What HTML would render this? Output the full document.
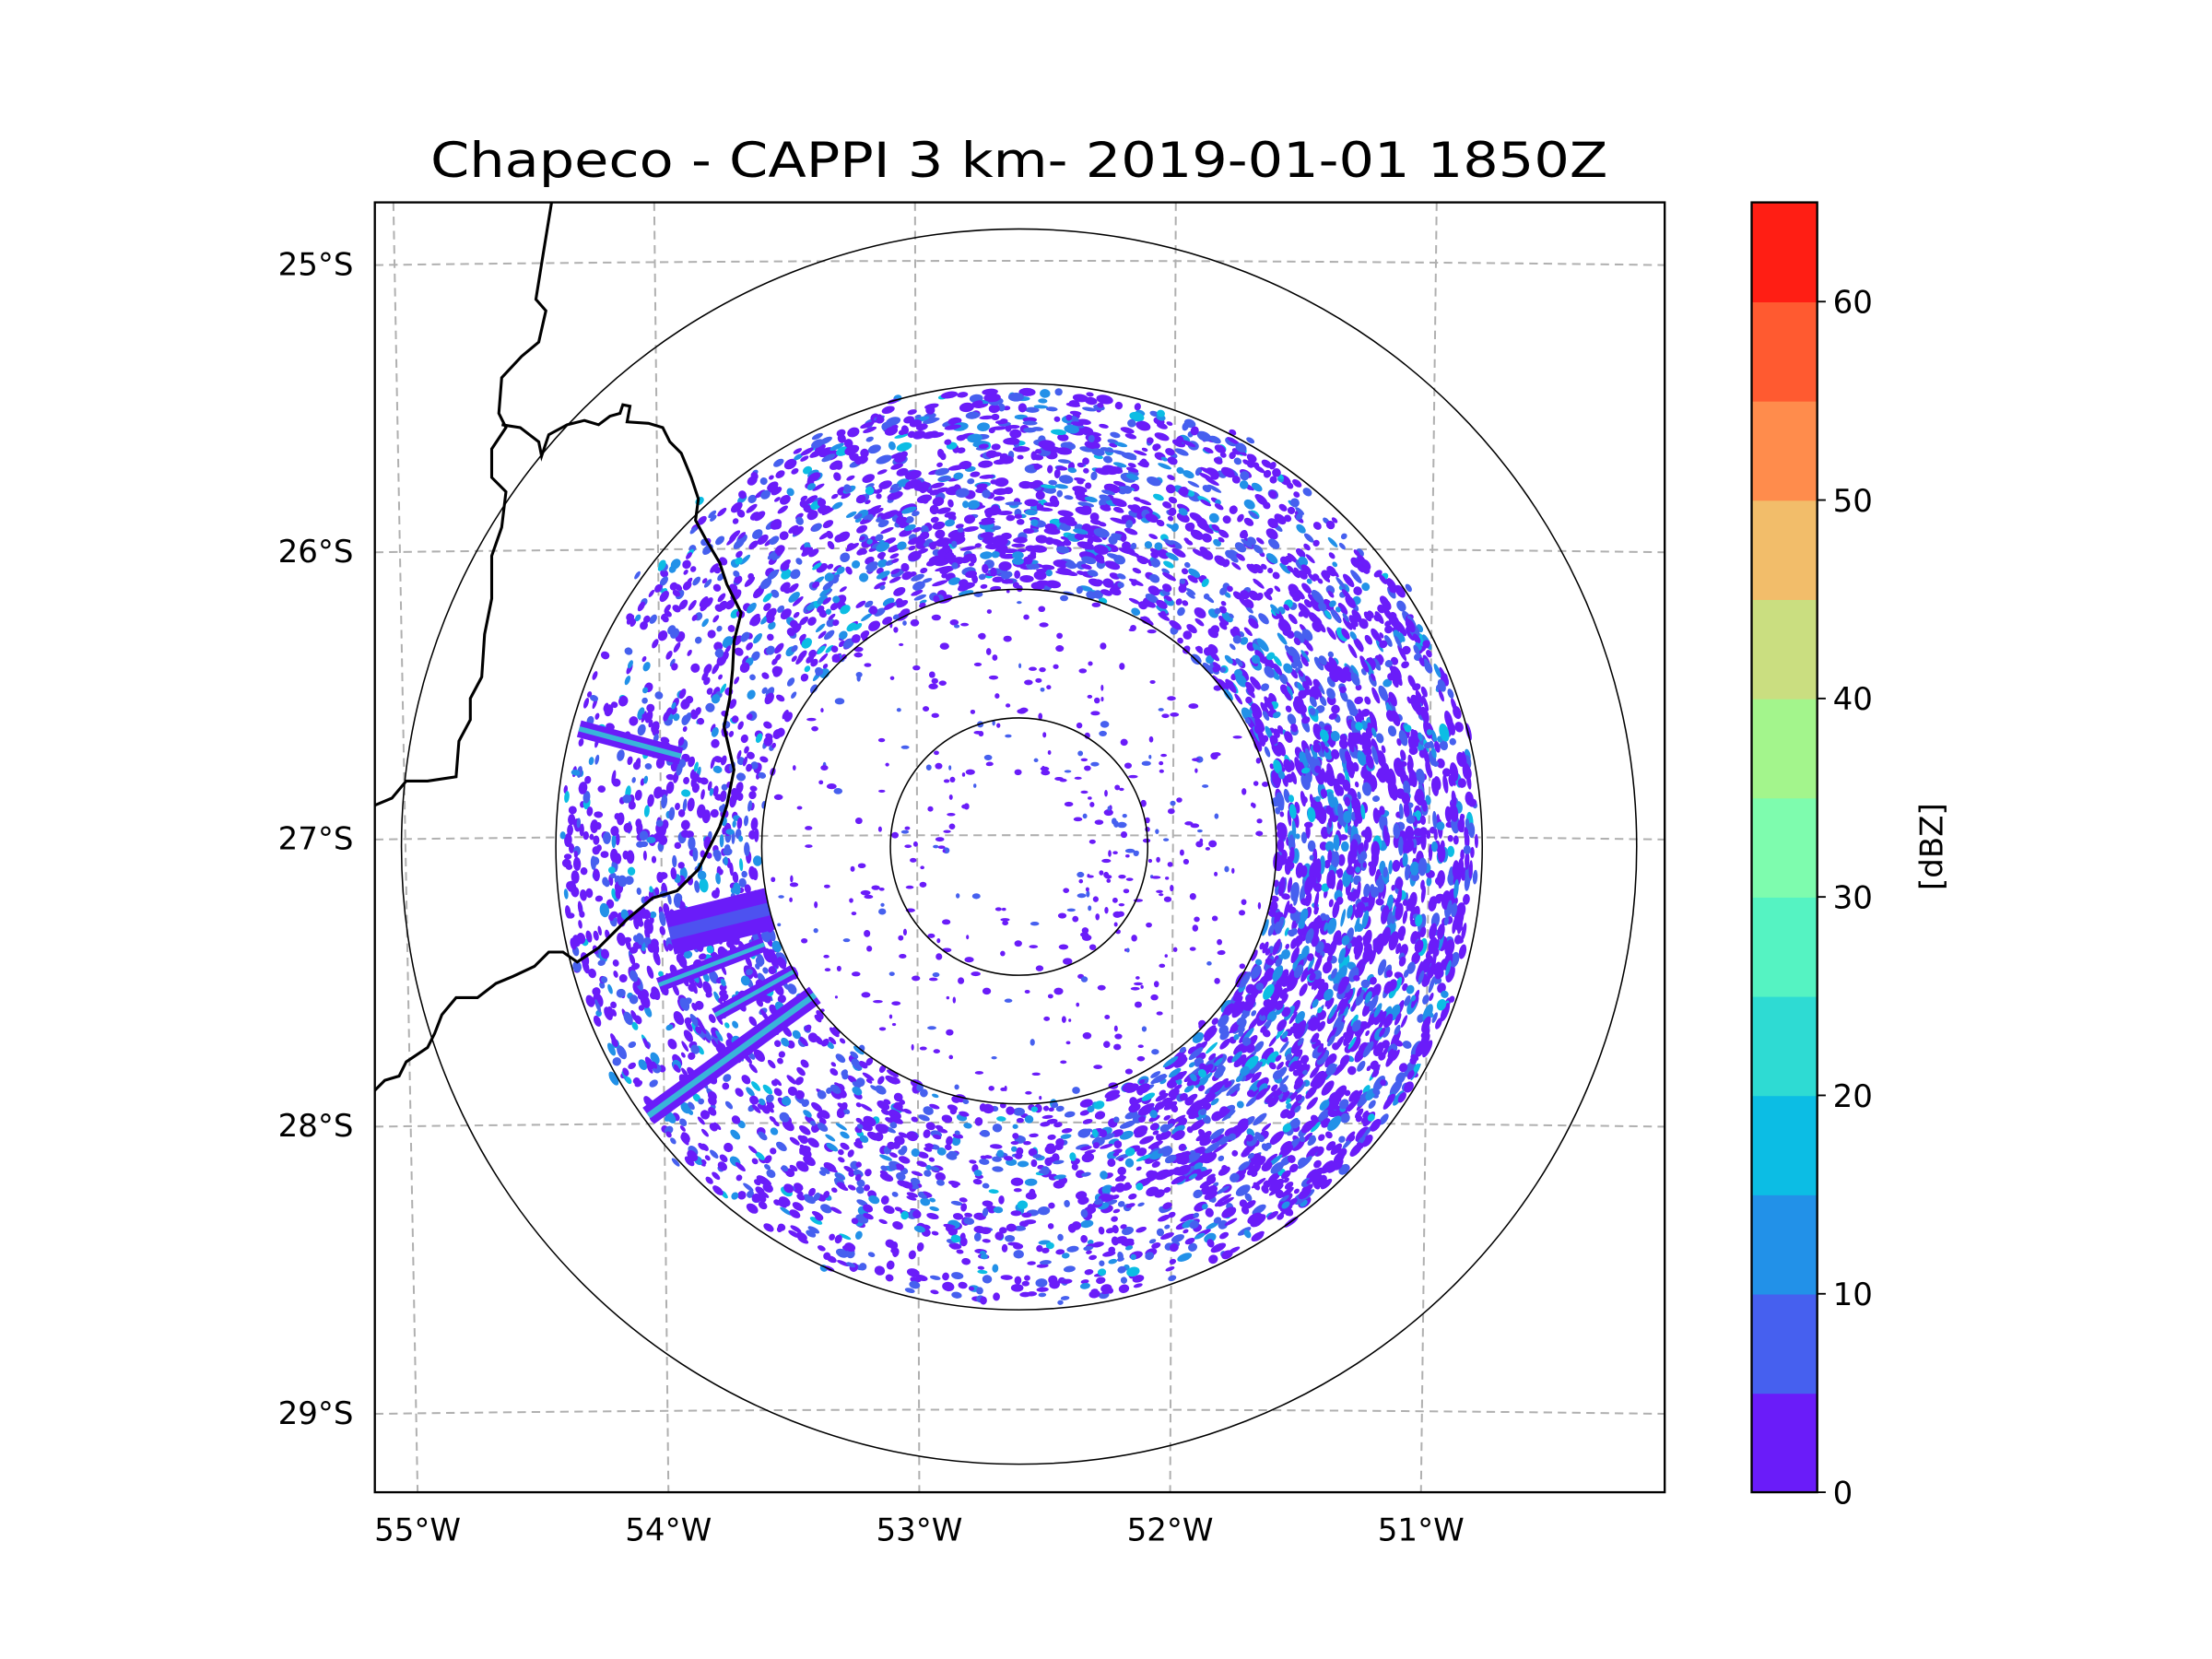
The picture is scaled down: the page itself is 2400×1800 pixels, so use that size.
<!DOCTYPE html>
<html><head><meta charset="utf-8"><style>
html,body{margin:0;padding:0;background:#fff;}
svg{display:block;}
text{font-family:"DejaVu Sans","Liberation Sans",sans-serif;fill:#000;}
</style></head>
<body>
<svg id="chart" width="2400" height="1800" viewBox="0 0 1552 1164" preserveAspectRatio="none" xmlns="http://www.w3.org/2000/svg">
<rect x="0" y="0" width="1552" height="1164" fill="#fff"/>
<text x="715" y="124" font-size="34" text-anchor="middle" textLength="826" lengthAdjust="spacingAndGlyphs">Chapeco - CAPPI 3 km- 2019-01-01 1850Z</text>
<defs><clipPath id="plotclip"><rect x="263" y="142" width="905" height="905"/></clipPath></defs>
<g id="grid" stroke="#b0b0b0" stroke-width="1.3" stroke-dasharray="6,4" fill="none"></g>
<g id="echoes" clip-path="url(#plotclip)"></g>
<g id="rings" fill="none" stroke="#000" stroke-width="1"></g>
<g fill="none" stroke="#000" stroke-width="2" clip-path="url(#plotclip)">
<polyline points="387,142 380,185 376,210 383,218 378,240 366,250 352,265 350,290 355,300 345,315 345,335 355,345 352,370 345,390 345,420 340,445 338,475 330,490 330,505 322,520 320,545 300,548 285,548 275,560 263,565"/>
<polyline points="352,298 365,300 378,310 380,320 385,305 398,298 410,295 420,298 428,292 435,290 437,284 442,285 440,296 455,297 465,300 470,310 478,318 485,335 490,350 488,365 495,378 505,395 510,410 520,430 515,450 514,470 512,490 508,510 515,540 510,565 505,580 500,590 495,600 490,610 475,625 458,630 440,645 430,655 420,665 405,675 395,668 385,668 375,678 360,685 348,690 335,700 320,700 310,712 305,725 300,735 285,745 280,755 270,758 263,765"/>
</g>
<rect x="263" y="142" width="905" height="905" fill="none" stroke="#000" stroke-width="1.5"/>
<g id="latlabels" font-size="22" text-anchor="end"></g>
<g id="lonlabels" font-size="22" text-anchor="middle"></g>
<g id="cbar"></g>
<text x="1363" y="594" font-size="22" text-anchor="middle" transform="rotate(-90 1363 594)">[dBZ]</text>
</svg>
<script>
const NS="http://www.w3.org/2000/svg";
// ---- data ----
const latLabels=["25°S","26°S","27°S","28°S","29°S"];
const latValues=[-25,-26,-27,-28,-29];
const lonLabels=["55°W","54°W","53°W","52°W","51°W"];
const lonValues=[-55,-54,-53,-52,-51];
const ringRadiiKm=[50,100,180,240];
const cbarBounds=[0,5,10,15,20,25,30,35,40,45,50,55,60,65];
const cbarColors=["#6a1cf9","#4660ef","#2291e8","#0cbde4","#2edbd3","#55f3c2","#7efcae","#a3f58c","#cade80","#f2bd6a","#ff8c4c","#ff5a30","#ff1e14"];
const cbarTicks=[0,10,20,30,40,50,60];
// echo density per 10-degree azimuth sector (from north, clockwise)
const sectorDensity=[0.8,0.8,0.7,0.6,0.6,0.8,0.9,1.0,1.0,1.0,1.0,1.0,1.0,0.9,0.9,0.8,0.6,0.5,0.5,0.5,0.6,0.6,0.5,0.6,0.7,0.7,0.6,0.6,0.5,0.4,0.5,0.6,0.6,0.7,0.8,0.8];
// streaks: azimuth deg, start range km, end range km, value dBZ, width px
const streakAz=[285,256,249,241,234];
const streakR0=[136,100,106,100,98];
const streakR1=[177,140,150,135,178];
const streakVal=[20,8,22,20,24];
const streakW=[12,30,10,10,14];
// ---- axis functions ----
const cx=715, cy=594, kmPx=325/180;
const latY=v=>588+(-27-v)*201.5;
function polar(az,rkm){const a=az*Math.PI/180;return [cx+Math.sin(a)*rkm*kmPx, cy-Math.cos(a)*rkm*kmPx];}
function colorFor(v){let i=0;while(i<cbarColors.length-1&&v>=cbarBounds[i+1])i++;return cbarColors[i];}
const cbY=v=>1047-(v/65)*905;
function el(tag,attrs,parent){const e=document.createElementNS(NS,tag);for(const k in attrs)e.setAttribute(k,attrs[k]);parent.appendChild(e);return e;}
// grid
const grid=document.getElementById('grid');
lonValues.forEach((v,i)=>{
  const xt=642+(v+53)*183, xb=645+(v+53)*176;
  const l=el('line',{x1:xt,y1:142,x2:xb,y2:1047},grid);
  
  
  const t=el('text',{x:xb,y:1081},document.getElementById('lonlabels'));t.textContent=lonLabels[i];
  
  
});
latValues.forEach((v,i)=>{
  const y=latY(v);
  const p=el('path',{d:`M263,${y+1} Q715,${y-5} 1168,${y+1}`},grid);
  
  
  const t=el('text',{x:248,y:y+8},document.getElementById('latlabels'));t.textContent=latLabels[i];
  
  
});
// rings
ringRadiiKm.forEach(r=>{
  const c=el('circle',{cx:cx,cy:cy,r:r*kmPx},document.getElementById('rings'));
  
  
});
// echoes (deterministic texture)
const eg=document.getElementById('echoes');
let seed=12345;function rnd(){seed=(seed*1103515245+12345)%2147483648;return seed/2147483648;}
sectorDensity.forEach((d,s)=>{
  const n=Math.round(d*200);
  for(let k=0;k<n;k++){
    const az=s*10+rnd()*10;
    const r=100+Math.pow(rnd(),0.9)*78+(rnd()<0.1?rnd()*6:0);
    const [x,y]=polar(az,r);
    const q=rnd();
    const v=q<0.62?2:(q<0.85?7:(q<0.96?12:17));
    const e=el('ellipse',{cx:x.toFixed(1),cy:y.toFixed(1),rx:(2+rnd()*5*d).toFixed(1),ry:(1.3+rnd()*2).toFixed(1),fill:colorFor(v),transform:`rotate(${az.toFixed(0)} ${x.toFixed(1)} ${y.toFixed(1)})`},eg);
    
    
  }
  const m=Math.round(d*16);
  for(let k=0;k<m;k++){
    const az=s*10+rnd()*10, r=25+rnd()*75;
    const [x,y]=polar(az,r);
    const e=el('ellipse',{cx:x.toFixed(1),cy:y.toFixed(1),rx:(1+rnd()*2.5).toFixed(1),ry:(1+rnd()*1.5).toFixed(1),fill:colorFor(rnd()<0.8?2:7)},eg);
    
    
  }
});
streakAz.forEach((az,i)=>{
  const [x0,y0]=polar(az,streakR0[i]);const [x1,y1]=polar(az,streakR1[i]);
  const b=el('line',{x1:x0,y1:y0,x2:x1,y2:y1,stroke:colorFor(2),'stroke-width':streakW[i]},eg);
  
  
  const l=el('line',{x1:x0,y1:y0,x2:x1,y2:y1,stroke:colorFor(streakVal[i]),'stroke-width':streakW[i]*0.3,opacity:0.8},eg);
  
  
});
// colorbar
const cb=document.getElementById('cbar');
cbarColors.forEach((c,i)=>{
  const y1=cbY(cbarBounds[i+1]), y0=cbY(cbarBounds[i]);
  const r=el('rect',{x:1229,y:y1,width:46,height:y0-y1+0.5,fill:c},cb);
  
  
});
el('rect',{x:1229,y:142,width:46,height:905,fill:'none',stroke:'#000','stroke-width':1.5},cb);
cbarTicks.forEach(v=>{
  el('line',{x1:1275,y1:cbY(v),x2:1281,y2:cbY(v),stroke:'#000','stroke-width':1.2},cb);
  const t=el('text',{x:1286,y:cbY(v)+8,'font-size':22},cb);t.textContent=v;
  
  
});
</script>
</body></html>
